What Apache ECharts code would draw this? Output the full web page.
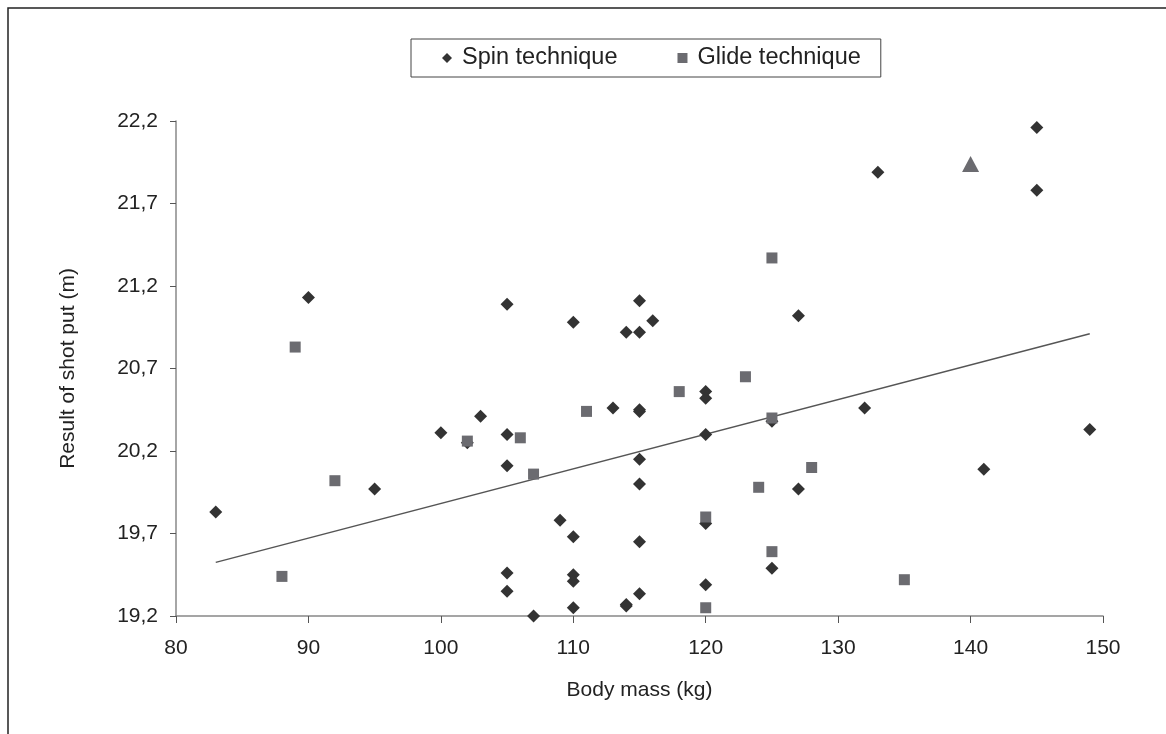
<!DOCTYPE html>
<html>
<head>
<meta charset="utf-8">
<title>Shot put vs body mass</title>
<script src="https://cdn.jsdelivr.net/npm/echarts@6/dist/echarts.min.js"></script>
<style>
  html, body { margin: 0; padding: 0; background: #fff; }
  #chart { width: 1166px; height: 734px; }
</style>
</head>
<body>
<div id="chart"></div>
<script>
// body mass (kg) and result (m)
const spinMass = [83, 90, 95, 100, 102, 103, 105, 105, 105, 105, 105, 107, 109, 110, 110, 110, 110, 110,
  113, 114, 114, 114, 115, 115, 115, 115, 115, 115, 115, 115, 116, 120, 120, 120, 120, 120,
  125, 125, 127, 127, 132, 133, 141, 145, 145, 149]
const spinResult = [19.83, 21.13, 19.97, 20.31, 20.25, 20.41, 21.09, 20.30, 20.11, 19.46, 19.35, 19.20, 19.78, 20.98, 19.68, 19.45, 19.41, 19.25,
  20.46, 20.92, 19.27, 19.26, 21.11, 20.92, 20.45, 20.44, 20.15, 20.00, 19.65, 19.335, 20.99, 20.56, 20.52, 20.30, 19.76, 19.39,
  20.38, 19.49, 21.02, 19.97, 20.46, 21.89, 20.09, 22.16, 21.78, 20.33]

const glideMass = [88, 89, 92, 102, 106, 107, 111, 118, 120, 120, 123, 124, 125, 125, 125, 128, 135]
const glideResult = [19.44, 20.83, 20.02, 20.26, 20.28, 20.06, 20.44, 20.56, 19.80, 19.25, 20.65, 19.98, 21.37, 20.40, 19.59, 20.10, 19.42]

// single highlighted point (triangle)
const markMass = [140]
const markResult = [21.94]

// trend line end points
const trendMass = [83, 149]
const trendResult = [19.525, 20.91]

const legendNames = ['Spin technique', 'Glide technique']

const font = 'Liberation Sans, Arial, sans-serif'
const pairs = (xs, ys) => xs.map((x, i) => [x, ys[i]])

let mycharts = echarts.init(document.getElementById('chart'))
mycharts.setOption({
  animation: false,
  backgroundColor: '#fff',
  //外框
  graphic: [{
    type: 'rect',
    shape: { x: 8, y: 8, width: 1400, height: 1000 },
    style: { fill: 'none', stroke: '#222', lineWidth: 1.5 },
    silent: true
  }],
  legend: {
    left: 411,
    top: 39,
    padding: [7, 20, 7, 31],
    itemGap: 60,
    itemWidth: 10,
    itemHeight: 10,
    borderColor: '#444',
    borderWidth: 1,
    textStyle: { fontFamily: font, fontSize: 23.5, color: '#222', padding: [0, 0, 0, 5] },
    data: [
      { name: legendNames[0], icon: 'diamond' },
      { name: legendNames[1], icon: 'rect' }
    ]
  },
  grid: {
    left: 176,
    right: 63,
    top: 121,
    bottom: 118
  },
  xAxis: {
    type: 'value',
    min: 80,
    max: 150,
    interval: 10,
    name: 'Body mass (kg)',
    nameLocation: 'middle',
    nameGap: 64,
    nameTextStyle: { fontFamily: font, fontSize: 21, color: '#222' },
    splitLine: { show: false },
    axisLine: { lineStyle: { color: '#888', width: 1.5 } },
    axisTick: { show: true, length: 7, lineStyle: { color: '#555', width: 1 } },
    axisLabel: { fontFamily: font, fontSize: 21, color: '#222', margin: 22 }
  },
  yAxis: {
    type: 'value',
    min: 19.2,
    max: 22.2,
    interval: 0.5,
    name: 'Result of shot put (m)',
    nameLocation: 'middle',
    nameGap: 97,
    nameTextStyle: { fontFamily: font, fontSize: 21, color: '#222' },
    splitLine: { show: false },
    axisLine: { show: true, lineStyle: { color: '#888', width: 1.5 } },
    axisTick: { show: true, length: 6, lineStyle: { color: '#555', width: 1 } },
    axisLabel: {
      fontFamily: font, fontSize: 21, color: '#222', margin: 18,
      formatter: v => v.toFixed(1).replace('.', ',')
    }
  },
  series: [
    {
      name: 'trend',
      type: 'line',
      data: pairs(trendMass, trendResult),
      showSymbol: false,
      silent: true,
      lineStyle: { color: '#555', width: 1.5 },
      z: 1
    },
    {
      name: legendNames[0],
      type: 'scatter',
      symbol: 'diamond',
      symbolSize: 13,
      itemStyle: { color: '#333', opacity: 1 },
      data: pairs(spinMass, spinResult),
      z: 2
    },
    {
      name: legendNames[1],
      type: 'scatter',
      symbol: 'rect',
      symbolSize: 11,
      itemStyle: { color: '#6b6b70', opacity: 1 },
      data: pairs(glideMass, glideResult),
      z: 3
    },
    {
      name: 'marked',
      type: 'scatter',
      symbol: 'triangle',
      symbolSize: [17, 16],
      itemStyle: { color: '#6b6b70', opacity: 1 },
      data: pairs(markMass, markResult),
      z: 3
    }
  ]
})
</script>
</body>
</html>
